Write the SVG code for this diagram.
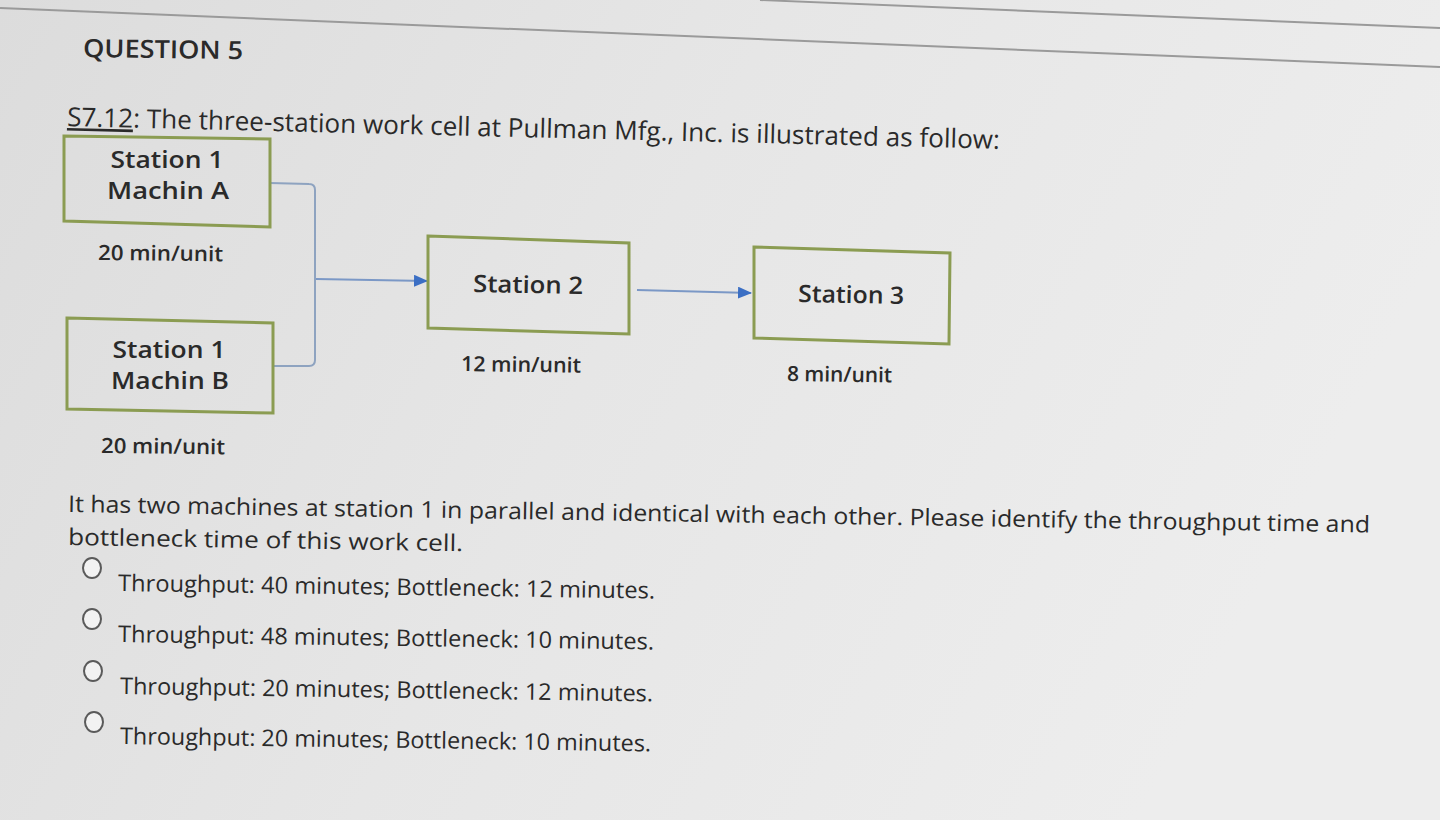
<svg xmlns="http://www.w3.org/2000/svg" width="1440" height="820" viewBox="0 0 1440 820">
<defs>
<linearGradient id="bg" x1="0" y1="0" x2="1" y2="0.3">
<stop offset="0" stop-color="#dcdcdc"/>
<stop offset="0.5" stop-color="#e6e6e6"/>
<stop offset="1" stop-color="#ededed"/>
</linearGradient>
<marker id="arr" viewBox="0 0 14 12" refX="13" refY="6" markerWidth="14" markerHeight="12" markerUnits="userSpaceOnUse" orient="auto">
<path d="M0,0 L14,6 L0,12 Z" fill="#3b6fc4"/>
</marker>
<style>
.t{font-family:"Open Sans","Liberation Sans",sans-serif;fill:#2a2a2a}
.body{font-size:23px}
.lbl{font-size:24px;font-weight:600;text-anchor:middle}
.rate{font-size:21px;font-weight:600}
.box{fill:none;stroke:#8b9c52;stroke-width:3;stroke-linejoin:miter}
.con{fill:none;stroke:#8ea3c0;stroke-width:2}
.arrow{fill:none;stroke:#7b98c6;stroke-width:2;marker-end:url(#arr)}
.radio{fill:#f2f2f2;stroke:#5a5a5a;stroke-width:2}
.rule{stroke:#9a9a9a;stroke-width:2}
</style>
</defs>
<rect width="1440" height="820" fill="url(#bg)"/>
<line class="rule" x1="0" y1="8" x2="1440" y2="67"/>
<line class="rule" x1="760" y1="0" x2="1440" y2="28"/>

<text class="t" x="83" y="57" font-size="25" font-weight="600" textLength="160" lengthAdjust="spacingAndGlyphs" transform="rotate(0.8 83 57)">QUESTION 5</text>
<text class="t" x="67" y="126" font-size="26" textLength="933" lengthAdjust="spacingAndGlyphs" transform="rotate(1.4 67 126)"><tspan text-decoration="underline">S7.12</tspan>: The three-station work cell at Pullman Mfg., Inc. is illustrated as follow:</text>

<g id="connectors">
<path class="con" d="M270,183 L309,184 Q315,184 315,190 L315,360 Q315,366 309,366 L273,366"/>
<line class="arrow" x1="316" y1="279" x2="427" y2="281"/>
<line class="arrow" x1="637" y1="290" x2="751" y2="293"/>
</g>

<g id="station1a">
<polygon class="box" points="64,136 270,139 270,227 64,221"/>
<text class="t lbl" x="167" y="168" textLength="113" lengthAdjust="spacingAndGlyphs">Station 1</text>
<text class="t lbl" x="168" y="199" textLength="122" lengthAdjust="spacingAndGlyphs">Machin A</text>
<text class="t rate" x="98" y="260" textLength="125" lengthAdjust="spacingAndGlyphs" transform="rotate(0.6 98 260)">20 min/unit</text>
</g>

<g id="station1b">
<polygon class="box" points="67,318 273,323 273,413 67,409"/>
<text class="t lbl" x="169" y="358" textLength="113" lengthAdjust="spacingAndGlyphs">Station 1</text>
<text class="t lbl" x="170" y="389" textLength="118" lengthAdjust="spacingAndGlyphs">Machin B</text>
<text class="t rate" x="101" y="453" textLength="124" lengthAdjust="spacingAndGlyphs" transform="rotate(0.6 101 453)">20 min/unit</text>
</g>

<g id="station2">
<polygon class="box" points="428,236 629,243 629,334 428,328"/>
<text class="t lbl" x="528" y="293" textLength="110" lengthAdjust="spacingAndGlyphs" transform="rotate(1 528 293)">Station 2</text>
<text class="t rate" x="461" y="371" textLength="120" lengthAdjust="spacingAndGlyphs" transform="rotate(0.8 461 371)">12 min/unit</text>
</g>

<g id="station3">
<polygon class="box" points="754,247 950,253 949,344 754,338"/>
<text class="t lbl" x="851" y="303" textLength="106" lengthAdjust="spacingAndGlyphs" transform="rotate(1 851 303)">Station 3</text>
<text class="t rate" x="787" y="381" textLength="105" lengthAdjust="spacingAndGlyphs" transform="rotate(0.8 787 381)">8 min/unit</text>
</g>

<text class="t body" x="68" y="512" textLength="1302" lengthAdjust="spacingAndGlyphs" transform="rotate(0.9 68 512)">It has two machines at station 1 in parallel and identical with each other. Please identify the throughput time and</text>
<text class="t body" x="68" y="545" textLength="395" lengthAdjust="spacingAndGlyphs" transform="rotate(0.9 68 545)">bottleneck time of this work cell.</text>

<g id="options">
<ellipse class="radio" cx="92" cy="568" rx="9" ry="10"/>
<text class="t body" x="118" y="591" textLength="537" lengthAdjust="spacingAndGlyphs" transform="rotate(0.8 118 591)">Throughput: 40 minutes; Bottleneck: 12 minutes.</text>
<ellipse class="radio" cx="92" cy="619" rx="9" ry="10"/>
<text class="t body" x="118" y="642" textLength="536" lengthAdjust="spacingAndGlyphs" transform="rotate(0.8 118 642)">Throughput: 48 minutes; Bottleneck: 10 minutes.</text>
<ellipse class="radio" cx="93" cy="671" rx="9" ry="10"/>
<text class="t body" x="120" y="694" textLength="533" lengthAdjust="spacingAndGlyphs" transform="rotate(0.8 120 694)">Throughput: 20 minutes; Bottleneck: 12 minutes.</text>
<ellipse class="radio" cx="94" cy="722" rx="9" ry="10"/>
<text class="t body" x="120" y="744" textLength="531" lengthAdjust="spacingAndGlyphs" transform="rotate(0.8 120 744)">Throughput: 20 minutes; Bottleneck: 10 minutes.</text>
</g>
</svg>
